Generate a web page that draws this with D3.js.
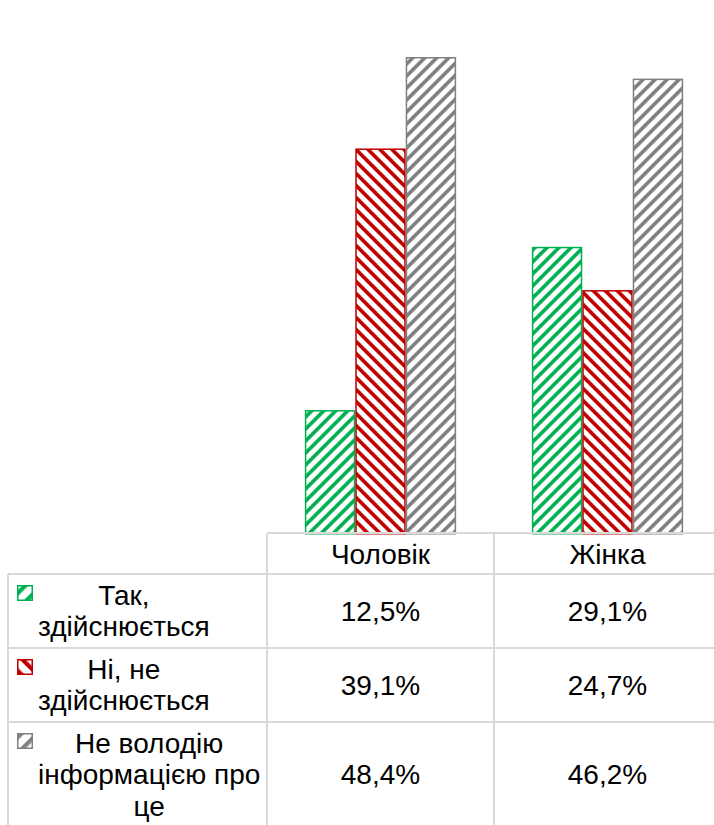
<!DOCTYPE html>
<html><head><meta charset="utf-8">
<script src="https://cdn.jsdelivr.net/npm/d3@7/dist/d3.min.js"></script>
<style>body{margin:0;background:#fff}svg{display:block}</style>
</head><body><svg id="c" width="714" height="825"></svg>
<script>
// ---- data ----
const categories = ["Чоловік", "Жінка"];
const seriesNames = ["Так, здійснюється", "Ні, не здійснюється", "Не володію інформацією про це"];
const seriesLabelLines = [["Так,", "здійснюється"], ["Ні, не", "здійснюється"], ["Не володію", "інформацією про", "це"]];
const valuesYes = [12.5, 29.1];
const valuesNo = [39.1, 24.7];
const valuesUnknown = [48.4, 46.2];
const seriesColors = ["#00b050", "#c00000", "#808080"];
const seriesHatch = ["up", "down", "up"];

const seriesValues = [valuesYes, valuesNo, valuesUnknown];
const fmt = v => d3.format(".1f")(v).replace(".", ",") + "%";

// ---- layout ----
const W = 714, H = 825;
const svg = d3.select("#c");
const baseY = 533;
const plotLeft = 267, plotRight = 721;
const tableLeft = 8;
const headerBottom = 574;
const rowEdges = [574, 648, 722, 826];
const gridColor = "#d9d9d9";
const font = "'Liberation Sans', Arial, sans-serif";
const fs = 28;

const x = d3.scaleBand().domain(categories).range([plotLeft, plotRight]).padding(0);
const xi = d3.scaleBand().domain(d3.range(seriesNames.length)).range([0, x.bandwidth()])
  .paddingInner(0).paddingOuter(0.75);
const y = d3.scaleLinear().domain([0, 50]).range([baseY, 41.25]);

// ---- patterns ----
const defs = svg.append("defs");
function makePattern(id, color, dir, period, stripe) {
  const p = period / Math.SQRT2, s = stripe / Math.SQRT2;
  const pat = defs.append("pattern").attr("id", id)
    .attr("patternUnits", "userSpaceOnUse")
    .attr("width", p).attr("height", 20)
    .attr("patternTransform", `rotate(${dir === "up" ? 45 : -45})`);
  pat.append("rect").attr("width", p).attr("height", 20).attr("fill", "#fff");
  pat.append("rect").attr("x", 0).attr("width", s).attr("height", 20).attr("fill", color);
}
seriesNames.forEach((n, i) => {
  makePattern("bar" + i, seriesColors[i], seriesHatch[i], 12, 5.2);
  makePattern("key" + i, seriesColors[i], seriesHatch[i], 16, 6);
});

// ---- bars ----
const groups = svg.append("g").selectAll("g").data(seriesNames).join("g");
groups.selectAll("rect")
  .data((s, i) => categories.map((c, j) => ({ i, c, v: seriesValues[i][j] })))
  .join("rect")
  .attr("x", d => x(d.c) + xi(d.i) + 0.75)
  .attr("width", xi.bandwidth() - 1.5)
  .attr("y", d => y(d.v) + 0.75)
  .attr("height", d => baseY - y(d.v))
  .attr("fill", d => `url(#bar${d.i})`)
  .attr("stroke", d => seriesColors[d.i])
  .attr("stroke-width", 1.5);

// ---- table grid ----
const grid = svg.append("g").attr("stroke", gridColor).attr("stroke-width", 2);
grid.append("line").attr("x1", plotLeft).attr("x2", W).attr("y1", baseY).attr("y2", baseY);
rowEdges.slice(0, 3).forEach(yy =>
  grid.append("line").attr("x1", tableLeft).attr("x2", W).attr("y1", yy).attr("y2", yy));
grid.append("line").attr("x1", tableLeft).attr("x2", tableLeft).attr("y1", headerBottom).attr("y2", H);
[plotLeft, plotLeft + x.bandwidth(), plotRight].forEach(xx =>
  grid.append("line").attr("x1", xx).attr("x2", xx).attr("y1", baseY).attr("y2", H));

// ---- header ----
svg.append("g").selectAll("text").data(categories).join("text")
  .attr("x", d => x(d) + x.bandwidth() / 2)
  .attr("y", (baseY + headerBottom) / 2)
  .attr("dy", "0.36em")
  .attr("text-anchor", "middle")
  .attr("font-family", font).attr("font-size", fs).attr("fill", "#000")
  .text(d => d);

// ---- rows ----
const textLeft = 38, lineH = 31.5;
seriesNames.forEach((name, i) => {
  const top = rowEdges[i], bot = rowEdges[i + 1];
  // key
  svg.append("rect").attr("x", 17.75).attr("y", top + 11.75).attr("width", 14.5).attr("height", 14.5)
    .attr("fill", `url(#key${i})`).attr("stroke", seriesColors[i]).attr("stroke-width", 1.5);
  // label lines
  const lines = seriesLabelLines[i];
  const g = svg.append("g");
  const ts = g.selectAll("text").data(lines).join("text")
    .attr("font-family", font).attr("font-size", fs).attr("fill", "#000")
    .attr("text-anchor", "middle")
    .attr("y", (d, k) => top + 30.5 + k * lineH)
    .text(d => d);
  let maxW = 0;
  ts.each(function () { maxW = Math.max(maxW, this.getComputedTextLength()); });
  ts.attr("x", textLeft + maxW / 2);
  // values
  categories.forEach((c, j) => {
    svg.append("text")
      .attr("x", x(c) + x.bandwidth() / 2)
      .attr("y", (top + bot) / 2)
      .attr("dy", "0.36em")
      .attr("text-anchor", "middle")
      .attr("font-family", font).attr("font-size", fs).attr("fill", "#000")
      .text(fmt(seriesValues[i][j]));
  });
});
</script></body></html>
